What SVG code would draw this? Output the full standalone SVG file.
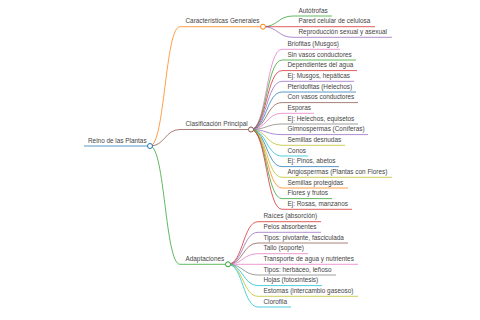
<svg xmlns="http://www.w3.org/2000/svg" width="480" height="320" viewBox="0 0 480 320">
<style>
text{font-family:"Liberation Sans",Arial,sans-serif;font-size:6.4px;fill:#444}
.l{fill:none;stroke-width:1;stroke-opacity:0.75}
.c{fill:#fff;stroke-width:1}
.b{stroke:#1f77b4}.o{stroke:#ff7f0e}.g{stroke:#2ca02c}.r{stroke:#d62728}.p{stroke:#9467bd}.br{stroke:#8c564b}.pk{stroke:#e377c2}.gy{stroke:#7f7f7f}.ol{stroke:#bcbd22}.cy{stroke:#17becf}
</style>
<rect width="480" height="320" fill="#fff"/>
<g id="connectors">
<path class="l o" d="M150,146 C165,146 165,26.7 180,26.7"/>
<path class="l br" d="M150,146 C165,146 165,129.5 180,129.5"/>
<path class="l g" d="M150,146 C165,146 165,264.3 180,264.3"/>
<path class="l g" d="M263,26.7 C278,26.7 278,16 293,16"/>
<path class="l r" d="M263,26.7 C278,26.7 278,26.7 293,26.7"/>
<path class="l p" d="M263,26.7 C278,26.7 278,37.3 293,37.3"/>
<path class="l pk" d="M251,129.5 C266.5,129.5 266.5,49.3 282,49.3"/>
<path class="l g" d="M251,129.5 C266.5,129.5 266.5,60 282,60"/>
<path class="l r" d="M251,129.5 C266.5,129.5 266.5,70.6 282,70.6"/>
<path class="l p" d="M251,129.5 C266.5,129.5 266.5,81.3 282,81.3"/>
<path class="l b" d="M251,129.5 C266.5,129.5 266.5,92 282,92"/>
<path class="l br" d="M251,129.5 C266.5,129.5 266.5,102.6 282,102.6"/>
<path class="l pk" d="M251,129.5 C266.5,129.5 266.5,113.3 282,113.3"/>
<path class="l gy" d="M251,129.5 C266.5,129.5 266.5,124 282,124"/>
<path class="l p" d="M251,129.5 C266.5,129.5 266.5,134.6 282,134.6"/>
<path class="l ol" d="M251,129.5 C266.5,129.5 266.5,145.3 282,145.3"/>
<path class="l cy" d="M251,129.5 C266.5,129.5 266.5,156 282,156"/>
<path class="l b" d="M251,129.5 C266.5,129.5 266.5,166.6 282,166.6"/>
<path class="l ol" d="M251,129.5 C266.5,129.5 266.5,177.3 282,177.3"/>
<path class="l o" d="M251,129.5 C266.5,129.5 266.5,188 282,188"/>
<path class="l g" d="M251,129.5 C266.5,129.5 266.5,198.6 282,198.6"/>
<path class="l r" d="M251,129.5 C266.5,129.5 266.5,209.3 282,209.3"/>
<path class="l r" d="M228,264.3 C243,264.3 243,221.7 258,221.7"/>
<path class="l p" d="M228,264.3 C243,264.3 243,232.3 258,232.3"/>
<path class="l br" d="M228,264.3 C243,264.3 243,243 258,243"/>
<path class="l pk" d="M228,264.3 C243,264.3 243,253.7 258,253.7"/>
<path class="l pk" d="M228,264.3 C243,264.3 243,264.3 258,264.3"/>
<path class="l gy" d="M228,264.3 C243,264.3 243,275 258,275"/>
<path class="l cy" d="M228,264.3 C243,264.3 243,285.6 258,285.6"/>
<path class="l ol" d="M228,264.3 C243,264.3 243,296.3 258,296.3"/>
<path class="l cy" d="M228,264.3 C243,264.3 243,307 258,307"/>
</g>
<g id="root"><line class="l b" x1="84" y1="146" x2="150" y2="146" stroke-width="1.6"/><circle class="c b" cx="150" cy="146" r="2.5"/><text x="88" y="142.5">Reino de las Plantas</text></g>
<g id="caracteristicas"><line class="l o" x1="180" y1="26.7" x2="263" y2="26.7"/><circle class="c o" cx="263" cy="26.7" r="2.5"/><text x="185.5" y="23.2">Características Generales</text></g>
<g id="clasificacion"><line class="l br" x1="180" y1="129.5" x2="251" y2="129.5"/><circle class="c br" cx="251" cy="129.5" r="2.5"/><text x="185.5" y="126">Clasificación Principal</text></g>
<g id="adaptaciones"><line class="l g" x1="180" y1="264.3" x2="228" y2="264.3"/><circle class="c g" cx="228" cy="264.3" r="2.5"/><text x="185.5" y="260.8">Adaptaciones</text></g>
<g id="c1"><line class="l g" x1="293" y1="16" x2="332" y2="16"/><text x="298.5" y="12.5">Autótrofas</text></g>
<g id="c2"><line class="l r" x1="293" y1="26.7" x2="375" y2="26.7"/><text x="298.5" y="23.2">Pared celular de celulosa</text></g>
<g id="c3"><line class="l p" x1="293" y1="37.3" x2="392" y2="37.3"/><text x="298.5" y="33.8">Reproducción sexual y asexual</text></g>
<g id="k1"><line class="l pk" x1="282" y1="49.3" x2="340" y2="49.3"/><text x="287.5" y="45.8">Briofitas (Musgos)</text></g>
<g id="k2"><line class="l g" x1="282" y1="60" x2="356" y2="60"/><text x="287.5" y="56.5">Sin vasos conductores</text></g>
<g id="k3"><line class="l r" x1="282" y1="70.6" x2="357" y2="70.6"/><text x="287.5" y="67.1">Dependientes del agua</text></g>
<g id="k4"><line class="l p" x1="282" y1="81.3" x2="354" y2="81.3"/><text x="287.5" y="77.8">Ej: Musgos, hepáticas</text></g>
<g id="k5"><line class="l b" x1="282" y1="92" x2="356" y2="92"/><text x="287.5" y="88.5">Pteridofitas (Helechos)</text></g>
<g id="k6"><line class="l br" x1="282" y1="102.6" x2="358" y2="102.6"/><text x="287.5" y="99.1">Con vasos conductores</text></g>
<g id="k7"><line class="l pk" x1="282" y1="113.3" x2="314" y2="113.3"/><text x="287.5" y="109.8">Esporas</text></g>
<g id="k8"><line class="l gy" x1="282" y1="124" x2="358" y2="124"/><text x="287.5" y="120.5">Ej: Helechos, equisetos</text></g>
<g id="k9"><line class="l p" x1="282" y1="134.6" x2="368" y2="134.6"/><text x="287.5" y="131.1">Gimnospermas (Coníferas)</text></g>
<g id="k10"><line class="l ol" x1="282" y1="145.3" x2="345" y2="145.3"/><text x="287.5" y="141.8">Semillas desnudas</text></g>
<g id="k11"><line class="l cy" x1="282" y1="156" x2="308" y2="156"/><text x="287.5" y="152.5">Conos</text></g>
<g id="k12"><line class="l b" x1="282" y1="166.6" x2="339" y2="166.6"/><text x="287.5" y="163.1">Ej: Pinos, abetos</text></g>
<g id="k13"><line class="l ol" x1="282" y1="177.3" x2="392" y2="177.3"/><text x="287.5" y="173.8">Angiospermas (Plantas con Flores)</text></g>
<g id="k14"><line class="l o" x1="282" y1="188" x2="348" y2="188"/><text x="287.5" y="184.5">Semillas protegidas</text></g>
<g id="k15"><line class="l g" x1="282" y1="198.6" x2="332" y2="198.6"/><text x="287.5" y="195.1">Flores y frutos</text></g>
<g id="k16"><line class="l r" x1="282" y1="209.3" x2="352" y2="209.3"/><text x="287.5" y="205.8">Ej: Rosas, manzanos</text></g>
<g id="a1"><line class="l r" x1="258" y1="221.7" x2="321" y2="221.7"/><text x="263.5" y="218.2">Raíces (absorción)</text></g>
<g id="a2"><line class="l p" x1="258" y1="232.3" x2="321" y2="232.3"/><text x="263.5" y="228.8">Pelos absorbentes</text></g>
<g id="a3"><line class="l br" x1="258" y1="243" x2="348" y2="243"/><text x="263.5" y="239.5">Tipos: pivotante, fasciculada</text></g>
<g id="a4"><line class="l pk" x1="258" y1="253.7" x2="308" y2="253.7"/><text x="263.5" y="250.2">Tallo (soporte)</text></g>
<g id="a5"><line class="l pk" x1="258" y1="264.3" x2="358" y2="264.3"/><text x="263.5" y="260.8">Transporte de agua y nutrientes</text></g>
<g id="a6"><line class="l gy" x1="258" y1="275" x2="336" y2="275"/><text x="263.5" y="271.5">Tipos: herbáceo, leñoso</text></g>
<g id="a7"><line class="l cy" x1="258" y1="285.6" x2="322" y2="285.6"/><text x="263.5" y="282.1">Hojas (fotosíntesis)</text></g>
<g id="a8"><line class="l ol" x1="258" y1="296.3" x2="358" y2="296.3"/><text x="263.5" y="292.8">Estomas (intercambio gaseoso)</text></g>
<g id="a9"><line class="l cy" x1="258" y1="307" x2="291" y2="307"/><text x="263.5" y="303.5">Clorofila</text></g>
</svg>
